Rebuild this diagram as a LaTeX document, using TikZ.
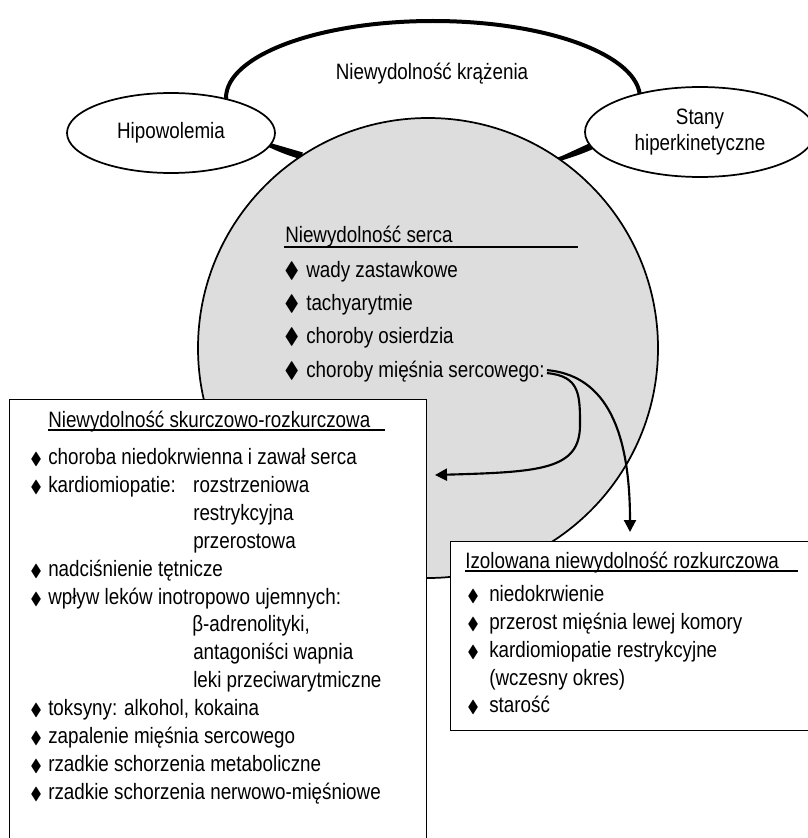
\documentclass[tikz,border=0pt]{standalone}
\usepackage{amssymb}
\usepackage{fontspec}
\setmainfont{Liberation Sans}[FakeStretch=0.845]
\usetikzlibrary{arrows.meta,shapes.geometric,calc}
\definecolor{hc}{RGB}{221,221,221}
\newcommand\bigmark{\makebox[16.5pt][l]{$\blacklozenge$}}
\newcommand\smallmark[1]{\makebox[#1][l]{\fontsize{13}{13}\selectfont$\blacklozenge$}}
\tikzset{oval/.style={draw,ellipse,fill=white,inner sep=0pt,line width=1.3pt},
 thickline/.style={line width=3pt},
 frame/.style={draw,fill=white,rectangle,inner sep=0pt,line width=1.1pt,anchor=north west},
 txt/.style={anchor=base west,inner sep=0pt},
 ul/.style={line width=1.6pt},
 arr/.style={line width=1.6pt,-{Triangle[length=9pt,width=9pt]}},
 every node/.style={font=\fontsize{16.7}{19.5}\selectfont}}
\begin{document}
\begin{tikzpicture}[x=0.75pt,y=-0.75pt]
\useasboundingbox (0,0) rectangle (807,838);
% upper ovals
\node[oval,line width=3pt,minimum width=310.5pt,minimum height=115.5pt] (flow) at (433,98) {};
\node[anchor=base] (flowlbl) at (432,80) {Niewydolność krążenia};
\node[oval,minimum width=156pt,minimum height=60pt] (hipo) at (171,133) {Hipowolemia};
\node[oval,align=center,minimum width=172.5pt,minimum height=67.5pt] (stany) at (700,132) {Stany\\hiperkinetyczne};
% heart circle
\node[circle,draw,fill=hc,line width=1.3pt,minimum size=345pt,inner sep=0pt] (heart) at (428,348) {};
\draw[thickline] (hipo.-7) -- (heart.123);
\draw[thickline] (stany.187) -- (heart.55);
\node[txt] (hs) at (285,242) {Niewydolność serca};
\draw[line width=2.2pt] ($(hs.base west)+(-1,5)$) -- ++(294,0);
\node[txt] (h1) at (284,277) {\bigmark wady zastawkowe};
\node[txt] (h2) at (284,310) {\bigmark tachyarytmie};
\node[txt] (h3) at (284,343) {\bigmark choroby osierdzia};
\node[txt] (h4) at (284,377) {\bigmark choroby mięśnia sercowego:};
% left box
\node[frame,minimum width=312.75pt,minimum height=334.5pt] (sys) at (9,399) {};
\node[txt] (st) at (48,427) {Niewydolność skurczowo-rozkurczowa};
\draw[ul] ($(st.base west)+(0,3)$) -- ++(337,0);
\foreach \x/\y/\t [count=\i] in {30/464/{\smallmark{13.5pt}choroba niedokrwienna i zawał serca},
  30/492/{\smallmark{13.5pt}\makebox[108.75pt][l]{kardiomiopatie:}rozstrzeniowa},
  193/520/restrykcyjna, 193/548/przerostowa,
  30/576/{\smallmark{13.5pt}nadciśnienie tętnicze},
  30/604/{\smallmark{13.5pt}wpływ leków inotropowo ujemnych:},
  192/631/{β-adrenolityki,}, 193/659/{antagoniści wapnia}, 193/687/{leki przeciwarytmiczne},
  30/715/{\smallmark{13.5pt}toksyny: alkohol, kokaina},
  30/743/{\smallmark{13.5pt}zapalenie mięśnia sercowego},
  30/771/{\smallmark{13.5pt}rzadkie schorzenia metaboliczne},
  30/799/{\smallmark{13.5pt}rzadkie schorzenia nerwowo-mięśniowe}}
  \node[txt] (sys\i) at (\x,\y) {\t};
% right box
\node[frame,minimum width=271.5pt,minimum height=141.75pt] (dia) at (450,541) {};
\node[txt] (dt) at (465,568) {Izolowana niewydolność rozkurczowa};
\draw[ul] ($(dt.base west)+(0,3)$) -- ++(333,0);
\foreach \x/\y/\t [count=\i] in {467/601/{\smallmark{16.5pt}niedokrwienie},
  467/629/{\smallmark{16.5pt}przerost mięśnia lewej komory},
  467/657/{\smallmark{16.5pt}kardiomiopatie restrykcyjne},
  489/685/{(wczesny okres)}, 467/712/{\smallmark{16.5pt}starość}}
  \node[txt] (dia\i) at (\x,\y) {\t};
% arrows
\coordinate (a1) at (435,475);
\coordinate (a2) at (630,532);
\draw[arr] ($(h4.east)+(2,2)$) .. controls (580,376) and (580,395) .. (580,425) .. controls (580,470) and (540,472) .. (a1);
\draw[arr] ($(h4.east)+(2,-1)$) .. controls (600,375) and (630,420) .. (a2);
\end{tikzpicture}
\end{document}
